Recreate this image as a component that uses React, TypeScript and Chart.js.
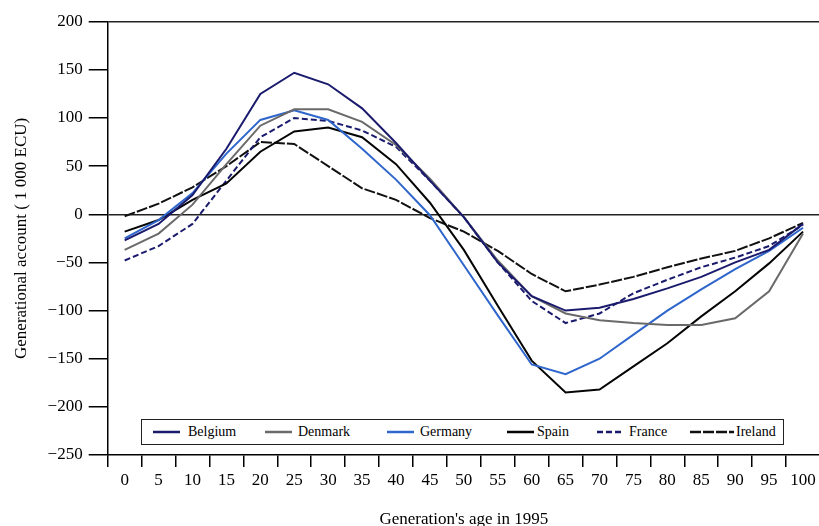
import React, { useEffect, useRef } from 'react';
import { Chart, registerables } from 'chart.js';

Chart.register(...registerables);

// ---- Data ----
const AGES = ['0', '5', '10', '15', '20', '25', '30', '35', '40', '45', '50', '55', '60', '65', '70', '75', '80', '85', '90', '95', '100'];

const BELGIUM = [-27, -10, 20, 68, 125, 147, 135, 110, 74, 35, -3, -50, -85, -100, -97, -88, -77, -65, -50, -37, -10];
const DENMARK = [-37, -20, 10, 52, 92, 109, 109, 96, 72, 37, -3, -48, -85, -103, -110, -113, -115, -115, -108, -80, -20];
const GERMANY = [-25, -6, 22, 63, 98, 108, 98, 68, 36, -1, -53, -105, -156, -166, -150, -125, -100, -78, -57, -38, -14];
const SPAIN = [-18, -6, 15, 32, 65, 86, 90, 80, 52, 12, -37, -95, -152, -185, -182, -158, -134, -106, -80, -51, -18];
const FRANCE = [-48, -33, -10, 35, 80, 100, 97, 87, 70, 35, -3, -50, -90, -113, -103, -82, -68, -55, -45, -33, -11];
const IRELAND = [-2, 11, 28, 50, 75, 73, 50, 27, 15, -4, -18, -38, -62, -80, -73, -65, -55, -46, -38, -25, -9];

const SERIES_NAMES = ['Belgium', 'Denmark', 'Germany', 'Spain', 'France', 'Ireland'];
const SERIES_VALUES = [BELGIUM, DENMARK, GERMANY, SPAIN, FRANCE, IRELAND];

const Y_MIN = -250;
const Y_MAX = 200;
const Y_STEP = 50;

const X_TITLE = "Generation's age in 1995";
const Y_TITLE = 'Generational account ( 1 000 ECU)';

// ---- Styles ----
const STYLES = [
  { color: '#1b1b6e', dash: [] as number[] },
  { color: '#6a6a6a', dash: [] as number[] },
  { color: '#2f66cc', dash: [] as number[] },
  { color: '#050505', dash: [] as number[] },
  { color: '#1b1b6e', dash: [6, 3] },
  { color: '#111111', dash: [11, 2] },
];

const LEGEND_POS = [
  { lineX: 153, lineW: 27, textX: 188 },
  { lineX: 265, lineW: 27, textX: 298 },
  { lineX: 387, lineW: 27, textX: 420 },
  { lineX: 507, lineW: 27, textX: 537 },
  { lineX: 597, lineW: 27, textX: 629 },
  { lineX: 690, lineW: 44, textX: 736 },
];

const FONT = 'Liberation Serif, Times New Roman, serif';

export default function App() {
  const canvasRef = useRef<HTMLCanvasElement>(null);

  useEffect(() => {
    const canvas = canvasRef.current;
    if (!canvas) return;
    const chart = new Chart(canvas, {
      type: 'line',
      data: {
        labels: AGES,
        datasets: SERIES_NAMES.map((name, i) => ({
          label: name,
          data: SERIES_VALUES[i],
          borderColor: STYLES[i].color,
          backgroundColor: STYLES[i].color,
          borderWidth: 2,
          borderDash: STYLES[i].dash,
          pointRadius: 0,
          tension: 0,
          fill: false,
        })),
      },
      options: {
        responsive: false,
        animation: false,
        devicePixelRatio: 1,
        layout: { padding: { top: 21.7, left: 0, right: 0, bottom: 0 } },
        plugins: {
          legend: { display: false },
          tooltip: { enabled: false },
        },
        scales: {
          x: {
            type: 'category',
            offset: true,
            grid: {
              offset: true,
              drawOnChartArea: false,
              color: '#000',
              lineWidth: 1.5,
              tickLength: 12,
            },
            border: { display: true, color: '#000', width: 1.5 },
            ticks: {
              color: '#000',
              font: { family: FONT, size: 17 },
              padding: 3,
              maxRotation: 0,
              autoSkip: false,
            },
            title: {
              display: true,
              text: X_TITLE,
              color: '#000',
              font: { family: FONT, size: 17 },
              padding: { top: 0, bottom: 2 },
            },
            afterFit: (scale: any) => {
              scale.height = 77;
            },
          },
          y: {
            type: 'linear',
            min: Y_MIN,
            max: Y_MAX,
            ticks: {
              stepSize: Y_STEP,
              color: '#000',
              font: { family: FONT, size: 17 },
              padding: 6,
              callback: (v: any) => (Number(v) < 0 ? '\u2212' + Math.abs(Number(v)) : String(v)),
            },
            grid: {
              color: (ctx: any) =>
                ctx.tick && (ctx.tick.value === 0 || ctx.tick.value === Y_MAX) ? '#222' : 'rgba(0,0,0,0)',
              tickColor: '#000',
              lineWidth: 1.5,
              tickLength: 19,
            },
            border: { display: true, color: '#000', width: 1.5 },
            title: {
              display: true,
              text: Y_TITLE,
              color: '#000',
              font: { family: FONT, size: 17 },
              padding: { top: 11, bottom: 0 },
            },
            afterFit: (scale: any) => {
              scale.width = 107.7;
            },
          },
        },
      },
    });
    return () => chart.destroy();
  }, []);

  return (
    <div
      style={{
        position: 'fixed',
        left: 0,
        top: 0,
        width: 819,
        height: 526,
        overflow: 'hidden',
        background: '#fff',
      }}
    >
      <canvas ref={canvasRef} width={820} height={532} style={{ display: 'block' }} />
      <div
        style={{
          position: 'absolute',
          left: 141,
          top: 419,
          width: 643,
          height: 26,
          border: '1.5px solid #222',
          boxSizing: 'border-box',
          background: '#fff',
        }}
      />
      {SERIES_NAMES.map((name, i) => (
        <React.Fragment key={name}>
          <svg
            style={{ position: 'absolute', left: LEGEND_POS[i].lineX, top: 429 }}
            width={LEGEND_POS[i].lineW}
            height={6}
          >
            <line
              x1={0}
              y1={3}
              x2={LEGEND_POS[i].lineW}
              y2={3}
              stroke={STYLES[i].color}
              strokeWidth={2.5}
              strokeDasharray={STYLES[i].dash.length ? STYLES[i].dash.join(' ') : undefined}
            />
          </svg>
          <span
            style={{
              position: 'absolute',
              left: LEGEND_POS[i].textX,
              top: 424,
              lineHeight: '16px',
              fontFamily: FONT,
              fontSize: 14,
              color: '#000',
              whiteSpace: 'nowrap',
            }}
          >
            {name}
          </span>
        </React.Fragment>
      ))}
    </div>
  );
}
